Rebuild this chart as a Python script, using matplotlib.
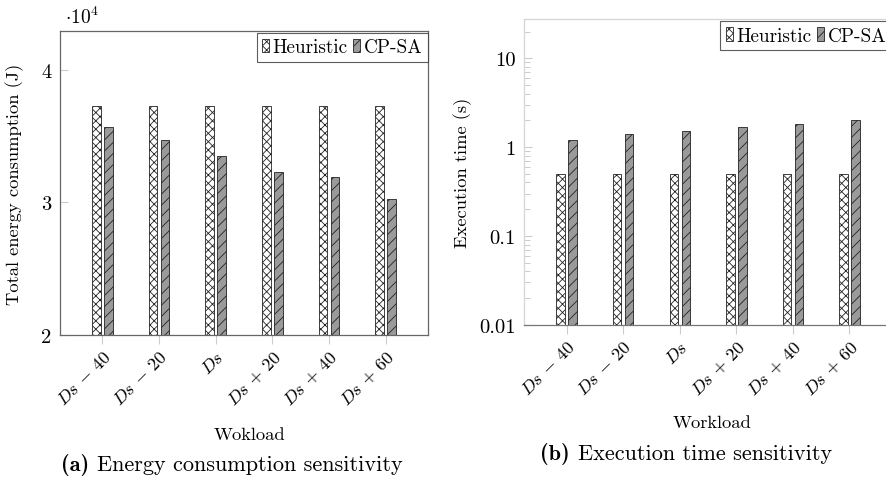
import matplotlib
matplotlib.use("Agg")
import matplotlib.pyplot as plt
import numpy as np
from matplotlib.ticker import FixedLocator, FixedFormatter, NullFormatter, LogLocator

plt.rcParams['font.family'] = 'cmr10'
plt.rcParams['mathtext.fontset'] = 'cm'
plt.rcParams['axes.formatter.use_mathtext'] = True
plt.rcParams['hatch.linewidth'] = 0.6

# ---- data ----
categories = [r'$Ds\,-\,40$', r'$Ds\,-\,20$', r'$Ds$', r'$Ds\,+\,20$', r'$Ds\,+\,40$', r'$Ds\,+\,60$']
energy_heuristic = [37300, 37300, 37300, 37300, 37300, 37300]
energy_cpsa = [35700, 34700, 33500, 32300, 31900, 30300]
time_heuristic = [0.5, 0.5, 0.5, 0.5, 0.5, 0.5]
time_cpsa = [1.2, 1.4, 1.5, 1.7, 1.8, 2.0]
energy_ticks = [20000, 30000, 40000]
energy_ticklabels = ['2', '3', '4']
time_ticks = [0.01, 0.1, 1, 10]
time_ticklabels = ['0.01', '0.1', '1', '10']

W, H = 887, 481
fig = plt.figure(figsize=(W / 100, H / 100), dpi=100)

def fx(px):
    return px / W

def fy(py):
    return 1 - py / H

FS = 13.3
TFS = 14.8
XFS = 13.0
x = np.arange(len(categories))
bw = 0.15
off = 0.106

def style_bars(ax, h_vals, c_vals):
    ax.bar(x - off, h_vals, bw, color='white', edgecolor='#222222',
           hatch='xxxx', linewidth=0.6, label='Heuristic', zorder=2)
    ax.bar(x + off, c_vals, bw, color='#9a9a9a', edgecolor='#222222',
           hatch='///', linewidth=0.6, label='CP-SA', zorder=2)
    ax.set_xlim(-0.75, 5.75)
    ax.set_xticks(x)
    ax.set_xticklabels(categories, rotation=45, ha='right', va='top',
                       rotation_mode='anchor', fontsize=XFS)
    ax.tick_params(axis='x', direction='out', length=6.5, width=0.8,
                   color='#cccccc', pad=3)
    ax.tick_params(axis='y', direction='in', length=6, width=0.8,
                   color='#cccccc', labelsize=TFS, pad=6)
    leg = ax.legend(loc='upper right', bbox_to_anchor=(1.0, 0.993), ncol=2,
                    fontsize=13.8, frameon=True, fancybox=False, borderaxespad=0,
                    handlelength=0.35, handleheight=0.7, handletextpad=0.2,
                    columnspacing=0.3, borderpad=0.28)
    leg.get_frame().set_edgecolor('#333333')
    leg.get_frame().set_linewidth(0.8)
    return leg

def caption(cx, base_y, bold, rest, fs):
    t1 = fig.text(0, 0, bold, fontfamily='cmb10', fontsize=fs, va='baseline', ha='left')
    t2 = fig.text(0, 0, rest, fontfamily='cmr10', fontsize=fs, va='baseline', ha='left')
    r = fig.canvas.get_renderer()
    w1 = t1.get_window_extent(r).width
    w2 = t2.get_window_extent(r).width
    gap = fs * 100 / 72 * 0.38
    left = cx - (w1 + gap + w2) / 2
    t1.set_position((fx(left), fy(base_y)))
    t2.set_position((fx(left + w1 + gap), fy(base_y)))

# ---- left: energy ----
ax1 = fig.add_axes([fx(60), fy(336), fx(428) - fx(60), fy(32) - fy(336)])
style_bars(ax1, energy_heuristic, energy_cpsa)
ax1.set_ylim(20000, 42940)
ax1.yaxis.set_major_locator(FixedLocator(energy_ticks))
ax1.yaxis.set_major_formatter(FixedFormatter(energy_ticklabels))
for s in ax1.spines.values():
    s.set_color('#666666')
    s.set_linewidth(0.9)
ax1.set_ylabel('Total energy consumption (J)', fontsize=FS)
ax1.yaxis.set_label_coords(-0.098, 0.5)
fig.text(fx(65), fy(24), r'$\cdot 10^4$', fontsize=14, ha='left', va='baseline')
fig.text(fx(249), fy(435), 'Wokload', fontsize=FS, ha='center', va='center')
caption(232, 471, '(a)', 'Energy consumption sensitivity', 16)

# ---- right: execution time ----
ax2 = fig.add_axes([fx(524.3), fy(325.7), fx(891.8) - fx(524.3), fy(20.3) - fy(325.7)])
ax2.set_yscale('log')
style_bars(ax2, time_heuristic, time_cpsa)
ax2.set_ylim(0.01, 27.5)
ax2.yaxis.set_major_locator(FixedLocator(time_ticks))
ax2.yaxis.set_major_formatter(FixedFormatter(time_ticklabels))
ax2.yaxis.set_minor_locator(LogLocator(base=10, subs=np.arange(2, 10)))
ax2.yaxis.set_minor_formatter(NullFormatter())
ax2.tick_params(axis='y', which='minor', direction='in', length=4, width=0.7,
                color='#cccccc')
for k in ['top', 'left', 'right']:
    ax2.spines[k].set_color('#d5d5d5')
    ax2.spines[k].set_linewidth(0.9)
ax2.spines['bottom'].set_color('#777777')
ax2.spines['bottom'].set_linewidth(0.9)
ax2.set_ylabel('Execution time (s)', fontsize=FS)
ax2.yaxis.set_label_coords(-0.142, 0.5)
fig.text(fx(712.5), fy(423), 'Workload', fontsize=FS, ha='center', va='center')
caption(686, 460, '(b)', 'Execution time sensitivity', 16)

fig.savefig('out.png', dpi=100)
